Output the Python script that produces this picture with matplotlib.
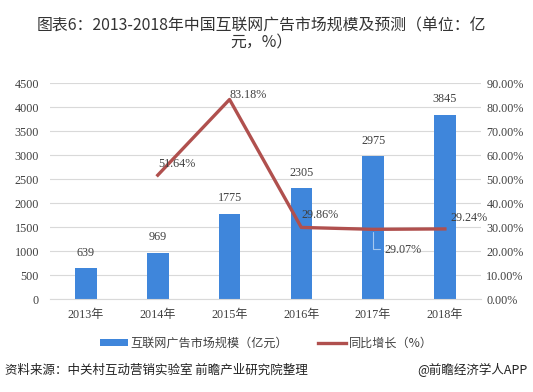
import matplotlib
matplotlib.use("Agg")
import matplotlib.pyplot as plt
from matplotlib.ticker import FixedLocator, FuncFormatter

plt.rcParams['font.family'] = ['Liberation Serif', 'Noto Sans CJK SC', 'DejaVu Sans']

years = ['2013年', '2014年', '2015年', '2016年', '2017年', '2018年']
market = [639, 969, 1775, 2305, 2975, 3845]
growth_years = ['2014年', '2015年', '2016年', '2017年', '2018年']
growth = [51.64, 83.18, 29.86, 29.07, 29.24]
left_ticks = [0, 500, 1000, 1500, 2000, 2500, 3000, 3500, 4000, 4500]
right_ticks = [0, 10, 20, 30, 40, 50, 60, 70, 80, 90]

bar_color = '#3F86DB'
line_color = '#B0504E'
text_color = '#404040'
cjk = ['Noto Sans CJK SC', 'DejaVu Sans']

fig = plt.figure(figsize=(5.33, 3.92), dpi=100)
ax = fig.add_axes([0.094, 0.237, 0.808, 0.551])
x = list(range(len(years)))
bars = ax.bar(x, market, width=0.3, color=bar_color, zorder=2, label='互联网广告市场规模（亿元）')
ax.set_xlim(-0.5, len(years) - 0.5)
ax.set_ylim(0, 4500)
ax.yaxis.set_major_locator(FixedLocator(left_ticks))
ax.set_xticks(x)
ax.set_xticklabels(years, fontsize=8.7, color=text_color)
ax.tick_params(axis='y', labelsize=8.7, colors=text_color, length=0, pad=8)
ax.tick_params(axis='x', length=0, pad=7)
ax.grid(axis='y', color='#D9D9D9', linewidth=0.8, zorder=0)
for s in ['top', 'right', 'left']:
    ax.spines[s].set_visible(False)
ax.spines['bottom'].set_color('#D9D9D9')
ax.spines['bottom'].set_linewidth(0.8)

for xi, v in zip(x, market):
    ax.annotate(str(v), (xi, v), xytext=(0, 7), textcoords='offset points',
                ha='center', va='bottom', fontsize=8.7, color=text_color)

ax2 = ax.twinx()
ax2.set_ylim(0, 90)
ax2.yaxis.set_major_locator(FixedLocator(right_ticks))
ax2.yaxis.set_major_formatter(FuncFormatter(lambda v, p: f'{v:.2f}%'))
ax2.tick_params(axis='y', labelsize=8.7, colors=text_color, length=0, pad=4)
for s in ['top', 'right', 'left', 'bottom']:
    ax2.spines[s].set_visible(False)
gx = [years.index(g) for g in growth_years]
ax2.plot(gx, growth, color=line_color, linewidth=2.4, zorder=3, label='同比增长（%）')

offsets = [(0, 8), (0, 3), (0, 9), (8, -15), (4, 8)]
for xi, v, off in zip(gx, growth, offsets):
    ax2.annotate(f'{v:.2f}%', (xi, v), xytext=off, textcoords='offset points',
                 ha='left', va='center', fontsize=8.7, color=text_color)
# leader line for 2017 label
ax2.annotate('', xy=(gx[3], growth[3]), xytext=(gx[3] + 0.14, growth[3] - 8.3),
             arrowprops=dict(arrowstyle='-', color='#A6C8EE', linewidth=0.8,
                             connectionstyle='angle,angleA=0,angleB=90,rad=0'))

h1, l1 = ax.get_legend_handles_labels()
h2, l2 = ax2.get_legend_handles_labels()
fig.legend(h1 + h2, l1 + l2, loc='center', bbox_to_anchor=(0.5, 0.125), ncol=2,
           frameon=False, prop={'family': cjk, 'size': 8.7}, handlelength=2.3,
           handleheight=0.5, columnspacing=2.5, handletextpad=0.2,
           labelcolor=text_color)

fig.text(0.49, 0.955, '图表6：2013-2018年中国互联网广告市场规模及预测（单位：亿\n元，%）',
         ha='center', va='top', fontsize=11.4, family=cjk, color='#333333', linespacing=1.0)
fig.text(0.01, 0.055, '资料来源：中关村互动营销实验室 前瞻产业研究院整理', ha='left', va='center',
         fontsize=9, family=cjk, style='italic', color='#222222')
fig.text(0.99, 0.055, '@前瞻经济学人APP', ha='right', va='center',
         fontsize=9, family=cjk, color='#222222')

fig.savefig('out.png', dpi=100)
